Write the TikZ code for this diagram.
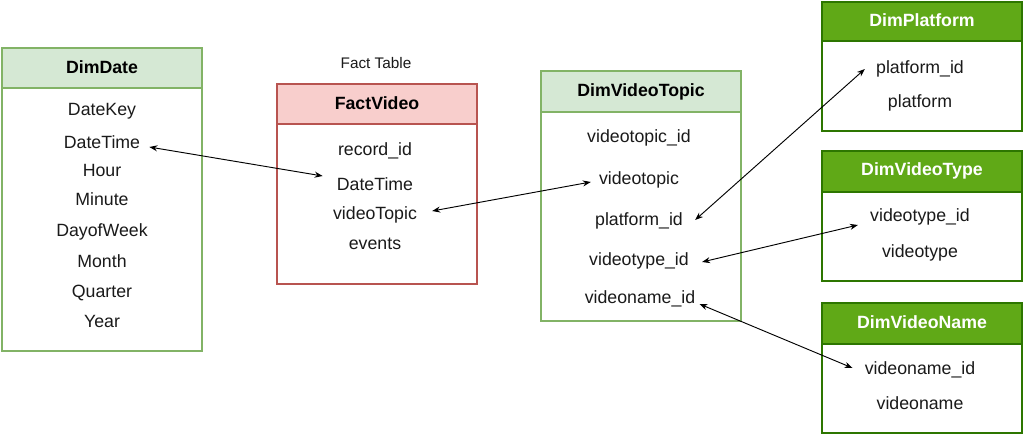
\documentclass[tikz,border=0pt]{standalone}
\usepackage{fontspec}
\setmainfont{Liberation Sans}
\usetikzlibrary{arrows.meta,calc}
\definecolor{gstroke}{HTML}{82B366}
\definecolor{gfill}{HTML}{D5E8D4}
\definecolor{rstroke}{HTML}{B85450}
\definecolor{rfill}{HTML}{F8CECC}
\definecolor{dgstroke}{HTML}{2D7600}
\definecolor{dgfill}{HTML}{60A917}
\definecolor{txt}{HTML}{1A1A1A}
\begin{document}
\begin{tikzpicture}[x=0.75pt,y=-0.75pt,
  frame/.style={draw, line width=2pt, fill=white},
  item/.style={inner sep=0pt, text height=12.4pt, text depth=2.8pt, font=\fontsize{13.3}{16}\selectfont, text=txt},
  head/.style={inner sep=0pt, text height=11pt, text depth=2.8pt, font=\bfseries\fontsize{13.3}{16}\selectfont},
  link/.style={{Stealth[length=6pt,width=4.5pt]}-{Stealth[length=6pt,width=4.5pt]}, line width=0.7pt}]
\useasboundingbox (0,0) rectangle (1024,435);

% DimDate
\draw[frame, draw=gstroke] (2,48) rectangle (202,351);
\draw[frame, draw=gstroke, fill=gfill] (2,48) rectangle (202,88);
\node[head] (dd) at (102,68) {DimDate};
\node[item] (dd1) at (102,109) {DateKey};
\node[item] (dd2) at (102,142) {DateTime};
\node[item] (dd3) at (102,170) {Hour};
\node[item] (dd4) at (102,199) {Minute};
\node[item] (dd5) at (102,230) {DayofWeek};
\node[item] (dd6) at (102,261) {Month};
\node[item] (dd7) at (102,291) {Quarter};
\node[item] (dd8) at (102,321) {Year};

% FactVideo
\node[inner sep=0pt, text height=10pt, text depth=2.4pt, font=\fontsize{11.5}{14}\selectfont, text=txt] (ft) at (376,63) {Fact Table};
\draw[frame, draw=rstroke] (277,84) rectangle (477,284);
\draw[frame, draw=rstroke, fill=rfill] (277,84) rectangle (477,124);
\node[head] (fv) at (377,104) {FactVideo};
\node[item] (fv1) at (375,149) {record\_id};
\node[item] (fv2) at (375,184) {DateTime};
\node[item] (fv3) at (375,213) {videoTopic};
\node[item] (fv4) at (375,243) {events};

% DimVideoTopic
\draw[frame, draw=gstroke] (541,71) rectangle (741,321);
\draw[frame, draw=gstroke, fill=gfill] (541,71) rectangle (741,112);
\node[head] (vt) at (641,91) {DimVideoTopic};
\node[item] (vt1) at (639,136) {videotopic\_id};
\node[item] (vt2) at (639,178) {videotopic};
\node[item] (vt3) at (639,219) {platform\_id};
\node[item] (vt4) at (639,259) {videotype\_id};
\node[item] (vt5) at (640,297) {videoname\_id};

% DimPlatform
\draw[frame, draw=dgstroke] (822,2) rectangle (1022,131);
\draw[frame, draw=dgstroke, fill=dgfill] (822,2) rectangle (1022,41);
\node[head, text=white] (pf) at (922,21) {DimPlatform};
\node[item] (pf1) at (920,67) {platform\_id};
\node[item] (pf2) at (920,101) {platform};

% DimVideoType
\draw[frame, draw=dgstroke] (822,151) rectangle (1022,281);
\draw[frame, draw=dgstroke, fill=dgfill] (822,151) rectangle (1022,192);
\node[head, text=white] (ty) at (922,170) {DimVideoType};
\node[item] (ty1) at (920,215) {videotype\_id};
\node[item] (ty2) at (920,251) {videotype};

% DimVideoName
\draw[frame, draw=dgstroke] (822,303) rectangle (1022,433);
\draw[frame, draw=dgstroke, fill=dgfill] (822,303) rectangle (1022,344);
\node[head, text=white] (vn) at (922,323) {DimVideoName};
\node[item] (vn1) at (920,368) {videoname\_id};
\node[item] (vn2) at (920,403) {videoname};

% links
\draw[link] ($(dd2.east)+(9,5)$) -- ($(fv2.west)+(-14,-8)$);
\draw[link] ($(fv3.east)+(15,-2)$) -- ($(vt2.west)+(-8,4)$);
\draw[link] ($(vt3.east)+(12,1)$) -- ($(pf1.west)+(-11,2)$);
\draw[link] ($(vt4.east)+(13,3)$) -- ($(ty1.west)+(-12,10)$);
\draw[link] ($(vt5.east)+(4,7)$) -- ($(vn1.west)+(-12,0)$);
\end{tikzpicture}
\end{document}
